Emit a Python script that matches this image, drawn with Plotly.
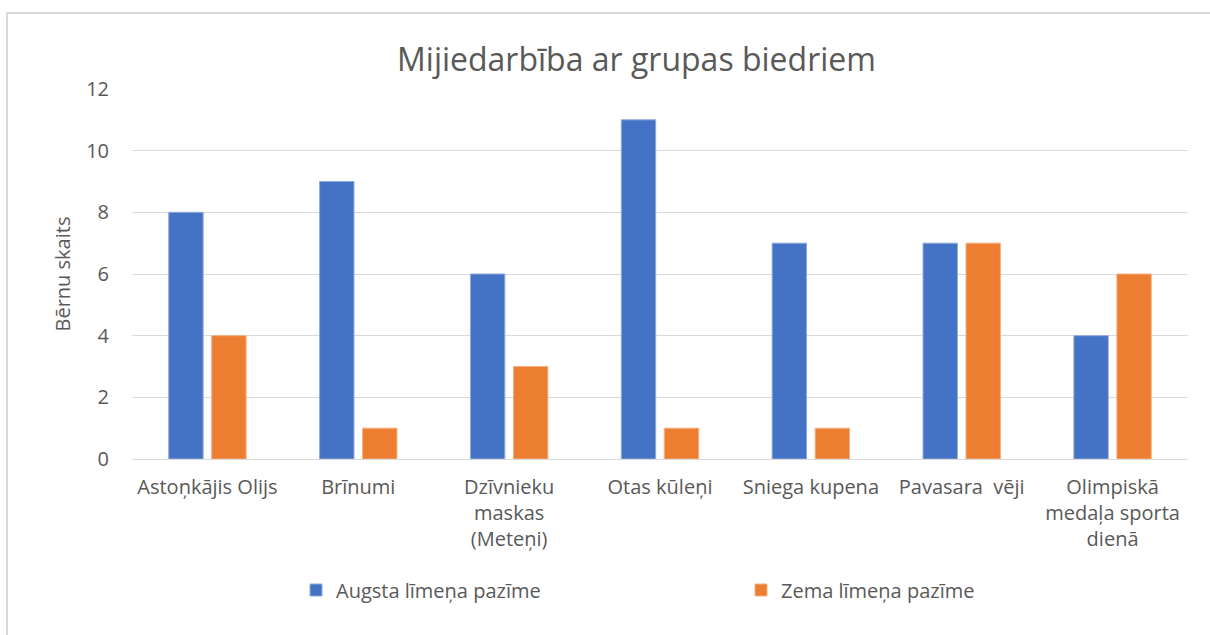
import plotly.graph_objects as go

categories = [
    "Astoņkājis Olijs",
    "Brīnumi",
    "Dzīvnieku<br>maskas<br>(Meteņi)",
    "Otas kūleņi",
    "Sniega kupena",
    "Pavasara\u00a0 vēji",
    "Olimpiskā<br>medaļa sporta<br>dienā",
]
high_level = [8, 9, 6, 11, 7, 7, 4]
low_level = [4, 1, 3, 1, 1, 7, 6]
series_names = ["Augsta līmeņa pazīme", "Zema līmeņa pazīme"]
y_ticks = [0, 2, 4, 6, 8, 10, 12]

FONT = "Open Sans"
TXT = "#595959"

fig = go.Figure()
fig.add_trace(go.Bar(x=categories, y=high_level, name=series_names[0],
                     marker=dict(color="#4472C4", line=dict(color="#8FAADC", width=1))))
fig.add_trace(go.Bar(x=categories, y=low_level, name=series_names[1],
                     marker=dict(color="#ED7D31", line=dict(color="#F4B183", width=1))))

fig.update_layout(
    width=1210, height=635,
    margin=dict(l=132, r=22, t=89, b=176),
    paper_bgcolor="white", plot_bgcolor="white",
    font=dict(family=FONT, color=TXT, size=20),
    title=dict(text="Mijiedarbība ar grupas biedriem", x=0.526, xref="container",
               xanchor="center", y=1 - 60 / 635, yref="container", yanchor="middle",
               font=dict(family=FONT, size=32, color=TXT)),
    barmode="group", bargap=0.43, bargroupgap=0.2,
    showlegend=True,
    legend=dict(orientation="h", xref="container", yref="container",
                x=296 / 1210, xanchor="left", y=1 - 590 / 635, yanchor="middle",
                entrywidth=400, entrywidthmode="pixels",
                font=dict(family=FONT, size=20, color=TXT), itemclick=False),
    xaxis=dict(showgrid=False, showline=False, zeroline=False,
               tickfont=dict(family=FONT, size=20, color=TXT), ticklabelstandoff=14),
    yaxis=dict(range=[0, 12], tickvals=y_ticks, showgrid=True, gridcolor="#D9D9D9",
               gridwidth=1.3, zeroline=True, zerolinecolor="#D9D9D9", zerolinewidth=1.3,
               showline=False, tickfont=dict(family=FONT, size=20, color=TXT),
               ticklabelstandoff=22,
               title=dict(text="Bērnu skaits", font=dict(family=FONT, size=20, color=TXT),
                          standoff=10)),
    shapes=[dict(type="rect", xref="paper", yref="paper",
                 x0=(7 - 132) / 1056, x1=1.3, y0=-1.0, y1=(459 - 13) / 370,
                 line=dict(color="#D9D9D9", width=2), fillcolor="rgba(0,0,0,0)", layer="below")],
)

fig.write_html("out.html", config={"displayModeBar": False},
               post_script="document.body.style.margin='0';")
